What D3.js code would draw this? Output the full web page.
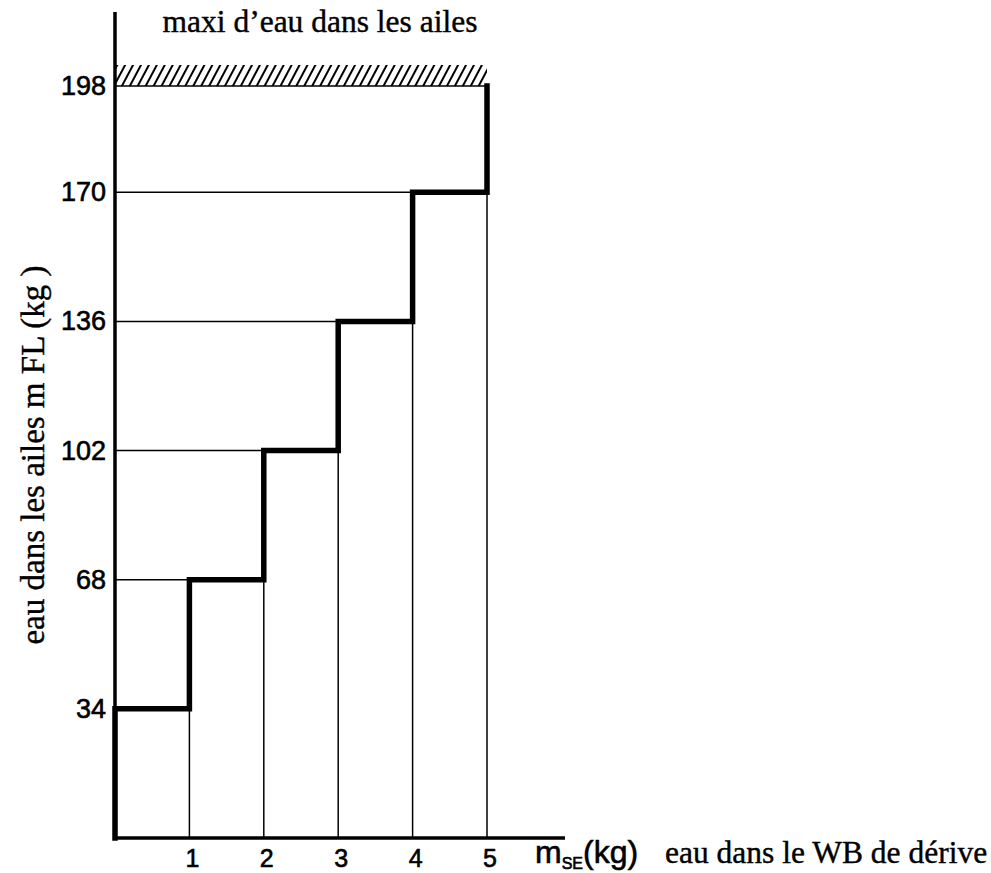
<!DOCTYPE html>
<html>
<head>
<meta charset="utf-8">
<script src="https://cdn.jsdelivr.net/npm/d3@7"></script>
<style>
  body { margin: 0; background: #fff; }
  svg { display: block; }
</style>
</head>
<body>
<div id="chart"></div>
<script>
// Données du graphique
const stepX = [0, 1, 2, 3, 4, 5];           // début de chaque palier (kg eau WB)
const levels = [34, 68, 102, 136, 170, 198]; // eau dans les ailes (kg)
const xTicks = [1, 2, 3, 4, 5];
const yTicks = [34, 68, 102, 136, 170, 198];

const width = 991, height = 873;
const serif = '"Liberation Serif", "Times New Roman", serif';
const sans = '"Liberation Sans", Arial, sans-serif';

const svg = d3.select('#chart')
    .append('svg')
    .attr('width', width)
    .attr('height', height);

svg.append('rect').attr('width', width).attr('height', height).attr('fill', '#fff');

const x = d3.scaleLinear().domain([0, 5]).range([115, 487]);
const y = d3.scaleLinear().domain([0, 198]).range([838, 86]);

// Hachures au-dessus du maxi
const defs = svg.append('defs');
defs.append('pattern')
    .attr('id', 'hatch')
    .attr('patternUnits', 'userSpaceOnUse')
    .attr('width', 7).attr('height', 7)
    .attr('patternTransform', 'rotate(28)')
    .append('line')
    .attr('x1', 1).attr('y1', 0).attr('x2', 1).attr('y2', 7)
    .attr('stroke', '#000').attr('stroke-width', 2);

svg.append('rect')
    .attr('x', x(0))
    .attr('y', y(198) - 21)
    .attr('width', x(5) - x(0))
    .attr('height', 21)
    .attr('fill', 'url(#hatch)');

// Lignes fines horizontales (de l'axe jusqu'au palier)
svg.selectAll('line.h')
    .data(levels)
    .enter()
    .append('line')
    .attr('class', 'h')
    .attr('x1', x(0))
    .attr('x2', (d, i) => x(stepX[i]))
    .attr('y1', d => y(d))
    .attr('y2', d => y(d))
    .attr('stroke', '#000')
    .attr('stroke-width', 1.5);

// Lignes fines verticales
svg.selectAll('line.v')
    .data(xTicks)
    .enter()
    .append('line')
    .attr('class', 'v')
    .attr('x1', d => x(d))
    .attr('x2', d => x(d))
    .attr('y1', y(0))
    .attr('y2', (d, i) => y(levels[i]))
    .attr('stroke', '#000')
    .attr('stroke-width', 1.5);

// Axes
svg.append('line')
    .attr('x1', x(0)).attr('x2', x(0))
    .attr('y1', 12).attr('y2', y(0) + 1.5)
    .attr('stroke', '#000').attr('stroke-width', 3.5);

svg.append('line')
    .attr('x1', x(0) - 1.5).attr('x2', 565)
    .attr('y1', y(0)).attr('y2', y(0))
    .attr('stroke', '#000').attr('stroke-width', 3.5);

// Courbe en escalier (trait épais)
const pts = [[0, 0]].concat(stepX.map((d, i) => [d, levels[i]]));
const line = d3.line()
    .x(d => x(d[0]))
    .y(d => y(d[1]))
    .curve(d3.curveStepAfter);

svg.append('path')
    .attr('d', line(pts))
    .attr('fill', 'none')
    .attr('stroke', '#000')
    .attr('stroke-width', 5.5)
    .attr('stroke-linejoin', 'miter')
    .attr('stroke-linecap', 'square');

// Graduations
svg.selectAll('text.ytick')
    .data(yTicks)
    .enter()
    .append('text')
    .attr('class', 'ytick')
    .attr('x', 106)
    .attr('y', d => y(d) + 9)
    .attr('text-anchor', 'end')
    .attr('font-family', sans)
    .attr('font-size', 27)
    .attr('stroke', '#000')
    .attr('stroke-width', 0.6)
    .text(d => d);

svg.selectAll('text.xtick')
    .data(xTicks)
    .enter()
    .append('text')
    .attr('class', 'xtick')
    .attr('x', d => x(d) + 3)
    .attr('y', 867)
    .attr('text-anchor', 'middle')
    .attr('font-family', sans)
    .attr('font-size', 25)
    .attr('stroke', '#000')
    .attr('stroke-width', 0.6)
    .text(d => d);

// Titres
svg.append('text')
    .attr('x', 320)
    .attr('y', 32)
    .attr('text-anchor', 'middle')
    .attr('font-family', serif)
    .attr('font-size', 31.5)
    .attr('stroke', '#000')
    .attr('stroke-width', 0.4)
    .text('maxi d\u2019eau dans les ailes');

svg.append('text')
    .attr('transform', 'translate(44,455) rotate(-90)')
    .attr('text-anchor', 'middle')
    .attr('font-family', serif)
    .attr('font-size', 33)
    .attr('stroke', '#000')
    .attr('stroke-width', 0.4)
    .text('eau dans les ailes m FL (kg )');

const xl = svg.append('text')
    .attr('x', 535)
    .attr('y', 863)
    .attr('font-family', sans)
    .attr('font-size', 32)
    .attr('stroke', '#000')
    .attr('stroke-width', 0.6);
xl.append('tspan').text('m');
xl.append('tspan').attr('font-size', 16).attr('dy', 6).text('SE');
xl.append('tspan').attr('dy', -6).text('(kg)');

svg.append('text')
    .attr('x', 665)
    .attr('y', 863)
    .attr('font-family', serif)
    .attr('font-size', 31.5)
    .attr('stroke', '#000')
    .attr('stroke-width', 0.4)
    .text('eau dans le WB de dérive');
</script>
</body>
</html>
